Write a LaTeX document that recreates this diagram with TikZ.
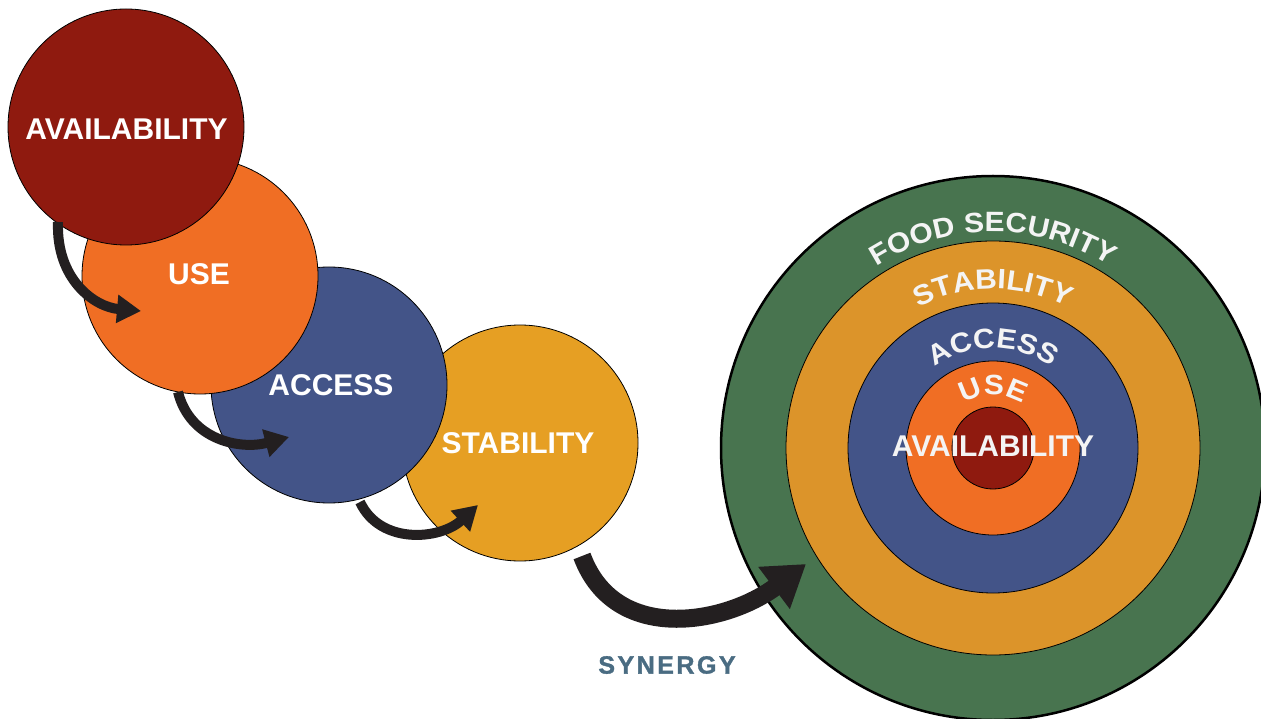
\documentclass[tikz,border=0pt]{standalone}
\usepackage{fontspec}
\setmainfont{Liberation Sans}
\newfontfamily\ringfamily{Liberation Sans Bold}[FakeStretch=1.07]
\newfontfamily\synfamily{Liberation Sans Bold}[LetterSpace=10, FakeBold=1.3]
\usetikzlibrary{arrows.meta,decorations.text}

\definecolor{cRed}{HTML}{8F1A0F}
\definecolor{cOrange}{HTML}{F06E24}
\definecolor{cBlue}{HTML}{435488}
\definecolor{cGold}{HTML}{E69F23}
\definecolor{cGoldRing}{HTML}{DC942A}
\definecolor{cGreen}{HTML}{48744F}
\definecolor{cArrow}{HTML}{231F20}
\definecolor{cSynergy}{HTML}{4A6C82}
\definecolor{cRingText}{HTML}{F4F4F4}

\newcommand\pillarfont{\bfseries\fontsize{30}{30}\selectfont}
\newcommand\ringfont{\ringfamily\fontsize{28}{28}\selectfont}

\tikzset{
  pillar/.style={circle, draw=black, line width=0.8pt, minimum size=236pt, inner sep=0pt},
  ring/.style={circle, draw=black, line width=0.8pt, inner sep=0pt},
  pillarlabel/.style={text=white, font=\pillarfont, inner sep=0pt},
  flow/.style={draw=cArrow, line width=10pt, -{Triangle[length=24pt, width=27pt]}},
  bigflow/.style={draw=cArrow, line width=18pt, -{Triangle[length=40pt, width=50pt]}},
  ringlabel/.style={decorate, decoration={text along path, text align=center,
    text color=cRingText, text={|\ringfont|#1}}}
}

\begin{document}
\begin{tikzpicture}[x=1pt, y=-1pt]
\useasboundingbox (0,0) rectangle (1261,719);
\clip (0,0) rectangle (1261,719);

% the four pillars, back to front
\node[pillar, fill=cGold]   (stab)  at (520,443) {};
\node[pillar, fill=cBlue]   (acc)   at (329,385) {};
\node[pillar, fill=cOrange] (use)   at (200,276) {};
\node[pillar, fill=cRed]    (avail) at (126,127) {};

\node[pillarlabel] (availT) at (126.5,129) {AVAILABILITY};
\node[pillarlabel] (useT)   at (199,274)   {USE};
\node[pillarlabel] (accT)   at (331,385)   {ACCESS};
\node[pillarlabel] (stabT)  at (518,443)   {STABILITY};

% nested rings of food security
\node[circle, draw=black, line width=2.5pt, fill=cGreen, minimum size=544pt, inner sep=0pt] (fs) at (993,448) {};
\node[ring, fill=cGoldRing, minimum size=414pt] (rStab)  at (fs.center) {};
\node[ring, fill=cBlue,     minimum size=290pt] (rAcc)   at (fs.center) {};
\node[ring, fill=cOrange,   minimum size=174pt] (rUse)   at (fs.center) {};
\node[ring, fill=cRed,      minimum size=82pt]  (rAvail) at (fs.center) {};

\path[ringlabel={FOOD SECURITY}] (993,448) ++(200:216) arc[start angle=200, end angle=340, radius=216];
\path[ringlabel={STABILITY}]     (993,448) ++(200:159) arc[start angle=200, end angle=340, radius=159];
\path[ringlabel={ACCESS}]        (993,448) ++(190:100) arc[start angle=190, end angle=350, radius=100];
\path[ringlabel={USE}]           (993,448) ++(180:53)  arc[start angle=180, end angle=360, radius=53];
\node[text=cRingText, font=\pillarfont, inner sep=0pt] (ringAvailT) at (993,446) {AVAILABILITY};

% arrows between the pillars
\coordinate (a1s) at (58,222);   \coordinate (a1e) at (141,311);
\coordinate (a2s) at (178,392);  \coordinate (a2e) at (289,437);
\coordinate (a3s) at (360,502);  \coordinate (a3e) at (478,505);
\coordinate (a4s) at (582,556);  \coordinate (a4e) at (806,564);

\draw[flow] (a1s) .. controls (56,280) and (95,307) .. (a1e);
\draw[flow] (a2s) .. controls (190,440) and (240,450) .. (a2e);
\draw[flow] (a3s) .. controls (380,545) and (440,540) .. (a3e);
\draw[bigflow] (a4s) .. controls (615,645) and (726,624) .. (a4e);

\node[text=cSynergy, font=\synfamily\fontsize{25}{25}\selectfont, inner sep=0pt] (syn) at (667,665) {SYNERGY};
\end{tikzpicture}
\end{document}
